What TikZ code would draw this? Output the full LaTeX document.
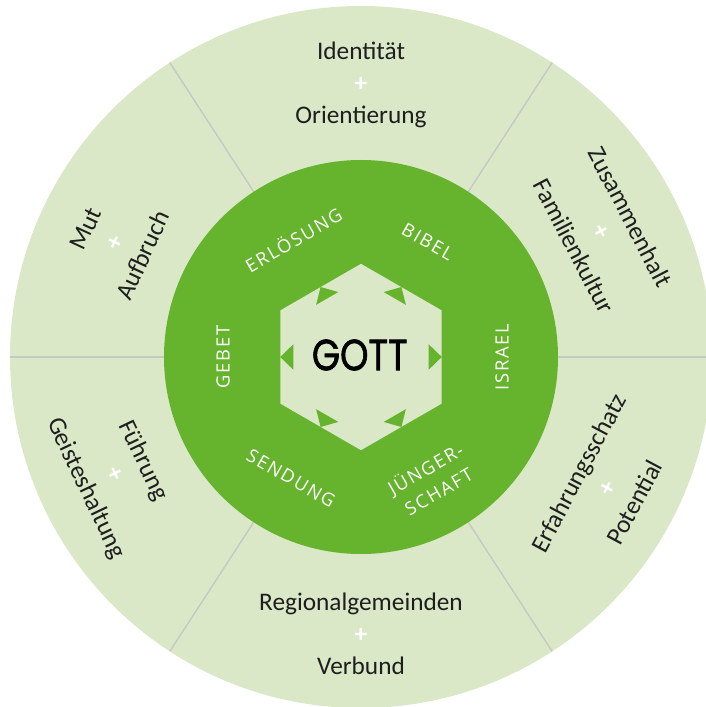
\documentclass[tikz,border=0pt]{standalone}
\usepackage{fontspec}
\setmainfont{Carlito}
\newfontfamily\ringfont[LetterSpace=10]{Open Sans}
\newfontfamily\gottfont[FakeBold=1.6]{Poppins}
\usetikzlibrary{calc}
\definecolor{ringlight}{HTML}{DAE8C7}
\definecolor{ringdark}{HTML}{66B32E}
\definecolor{divider}{HTML}{C6C9C3}
\definecolor{labeltext}{HTML}{1E1E1E}

\begin{document}
\begin{tikzpicture}[
	sectortext/.style={text=labeltext, align=center, inner sep=0pt, font=\fontsize{18}{22.5}\selectfont},
	ringtext/.style={text=white, align=center, inner sep=0pt, font=\ringfont\fontsize{13}{18.5}\selectfont}
]
	\newcommand{\outerR}{8.775}
	\newcommand{\innerR}{4.925}
	\newcommand{\hexR}{2.33}
	\newcommand{\tipR}{2.02}
	\newcommand{\plusSign}{{\bfseries\color{white}+}}

	\useasboundingbox (-9.025,-8.75) rectangle (8.625,8.925);
	\coordinate (centre) at (0,0);

	% outer ring with dividers
	\fill[ringlight] (centre) circle (\outerR);
	\foreach \a in {0,57,123,180,237,303}
		\draw[divider, line width=1pt] (\a:\innerR) -- (\a:\outerR);

	% inner ring
	\fill[ringdark] (centre) circle (\innerR);

	% hexagon and arrow heads
	\fill[ringlight] (90:\hexR) -- (150:\hexR) -- (210:\hexR) -- (270:\hexR) -- (330:\hexR) -- (30:\hexR) -- cycle;
	\foreach \a in {0,60,...,300}
		\fill[ringdark, rotate=\a] (\tipR,0) -- ++(-0.33,0.32) -- ++(0,-0.64) -- cycle;

	\node[font=\gottfont\fontsize{31}{31}\selectfont, text=black, inner sep=0pt] (gott) at (-0.03,0.05) {\scalebox{0.83}[1]{GOTT}};

	% inner ring labels
	\node[ringtext, rotate=30] (erloesung) at (120:3.4) {ERLÖSUNG};
	\node[ringtext, rotate=-30] (bibel) at (60:3.33) {BIBEL};
	\node[ringtext, rotate=90] (gebet) at (180:3.45) {GEBET};
	\node[ringtext, rotate=90] (israel) at (0:3.53) {ISRAEL};
	\node[ringtext, rotate=-30] (sendung) at (240:3.5) {SENDUNG};
	\node[ringtext, rotate=30] (juengerschaft) at (300:3.53) {JÜNGER-\\SCHAFT};

	% outer ring labels
	\node[sectortext] (identitaet) at (90:6.8) {Identität\\\plusSign\\Orientierung};
	\node[sectortext, rotate=-62.5] (zusammenhalt) at (27.5:6.8) {Zusammenhalt\\\plusSign\\Familienkultur};
	\node[sectortext, rotate=65] (mut) at (155:6.8) {Mut\\\plusSign\\Aufbruch};
	\node[sectortext, rotate=295.5] (fuehrung) at (205.5:6.83) {Führung\\\plusSign\\Geisteshaltung};
	\node[sectortext] (regional) at (270:6.92) {Regionalgemeinden\\\plusSign\\Verbund};
	\node[sectortext, rotate=62] (erfahrung) at (332:6.95) {Erfahrungsschatz\\\plusSign\\Potential};
\end{tikzpicture}
\end{document}
